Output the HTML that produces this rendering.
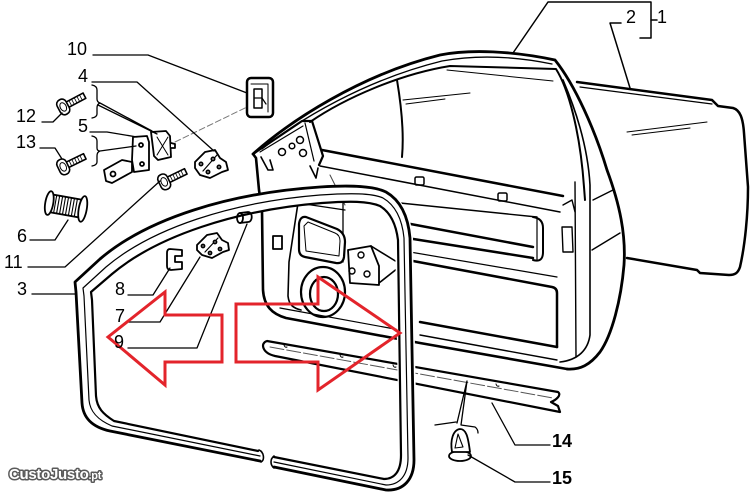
<!DOCTYPE html>
<html><head><meta charset="utf-8"><style>
html,body{margin:0;padding:0;background:#fff;width:750px;height:496px;overflow:hidden}
svg{display:block}
text{font-family:"Liberation Sans",Arial,sans-serif;}
</style></head><body>
<svg width="750" height="496" viewBox="0 0 750 496" xmlns="http://www.w3.org/2000/svg">
<rect width="750" height="496" fill="#fff"/>
<g fill="none" stroke="#000" stroke-linecap="round" stroke-linejoin="round">

<!-- label brackets 1/2 -->
<path d="M513,53 L548,2 L651,2 L651,38 L640,38" stroke-width="1.5"/>
<path d="M651,20 L657,20" stroke-width="1.5"/>
<path d="M621,23 L610,23 L630,88" stroke-width="1.5"/>

<!-- outer skin (2) -->
<path d="M577,82 L712,100 L718,106 L733,108 C740,110 743,118 744,133 L748,187 C748,215 745,245 740,267 C738,273 735,275 729,275 L700,273 L697,270 L627,258" stroke-width="2.5"/>
<path d="M580,87 L712,104" stroke-width="1.2"/>
<path d="M627,132 L707,122 M632,135 L690,128" stroke-width="1"/>

<!-- window frame / door shell -->
<path d="M253,154 C290,121 360,75 440,55 C470,49 513,51 555,60 C575,85 595,130 607,170 C620,205 626,235 624,265 C621,300 612,335 600,352 C590,365 580,370 567,369" stroke-width="2.8"/>
<path d="M262,149 C300,119 365,80 442,61 C475,55 513,56 552,64" stroke-width="1.3"/>
<path d="M310,122 C345,98 400,74 450,66 L556,69 C568,88 580,130 584,187 L585,200" stroke-width="2"/>
<path d="M563,80 C578,115 588,150 590,185 L590,335 C588,350 578,360 560,362" stroke-width="1.6"/>
<path d="M575,182 L576,357" stroke-width="1.4"/>
<path d="M397,80 C402,110 404,135 402,157" stroke-width="2"/>
<path d="M403,100 L470,93 M406,104 L445,99 M447,70 L553,81" stroke-width="1"/>
<path d="M593,200 L613,190 M592,250 L620,233" stroke-width="1.4"/>
<path d="M563,205 L572,200 L575,212 M562,227 L572,227 L573,252 L563,252 Z" stroke-width="1.4"/>

<!-- hinge plate -->
<path d="M253,154 L302,121 L312,121 L323,156 L319,165" stroke-width="2.2"/>
<path d="M260,152 L303,126" stroke-width="1.2"/>
<path d="M305,123 L314,161" stroke-width="1.2"/>
<path d="M261,157 L268,170 L273,170 L270,160" stroke-width="1.6"/>
<path d="M310,166 L316,178 L318,168" stroke-width="1.6"/>
<circle cx="282" cy="152" r="3.5" stroke-width="1.5"/>
<circle cx="292" cy="146" r="2.8" stroke-width="1.5"/>
<circle cx="300" cy="140" r="3.5" stroke-width="1.5"/>
<circle cx="303" cy="153" r="3.5" stroke-width="1.5"/>

<!-- door front edge and bottom -->
<path d="M253,154 L256,158 L259,190 L262,210 L263,290 C264,306 272,314 286,318 L420,343 L567,369" stroke-width="2.6"/>

<!-- belt lines -->
<path d="M322,150 L563,196" stroke-width="2.5"/>
<path d="M320,166 L560,212" stroke-width="1.5"/>
<rect x="415" y="177" width="9" height="8" rx="1.5" stroke-width="1.5"/>
<rect x="498" y="193" width="9" height="8" rx="1.5" stroke-width="1.5"/>
<path d="M330,175 L345,205" stroke-width="1" stroke="#444"/>

<!-- upper slot and lower opening -->
<path d="M400,203 L537,217" stroke-width="1.4"/>
<path d="M400,222 L533,247" stroke-width="2.5"/>
<path d="M407,238 L533,258" stroke-width="2.5"/>
<path d="M533,217 C540,218 543,222 543,228 L543,252 C543,259 540,262 533,260" stroke-width="2"/>
<path d="M537,219 L537,260" stroke-width="1.2"/>
<path d="M410,252 L557,277" stroke-width="1.2"/>
<path d="M413,261 L552,287 Q557,288 557,293 L557,347" stroke-width="2.5"/>
<path d="M420,322 L557,347" stroke-width="2.5"/>
<path d="M420,335 L557,360" stroke-width="1.4"/>

<!-- inner panel details (inside seal) -->
<path d="M298,203 L289,262 L288,296 C289,305 293,308 301,310" stroke-width="1.6"/>
<path d="M298,203 L345,210 M343,200 L343,262" stroke-width="1.3"/>
<path d="M306,217 L337,229 Q345,233 345,242 L344,257 Q343,264 336,263 L305,257 Q299,256 299,249 L299,224 Q300,216 306,217 Z" stroke-width="2.2" fill="#fff"/>
<path d="M308,222 L335,233 Q340,235 340,241 L339,256 L306,251 L304,226 Z" stroke-width="1"/>
<rect x="273" y="236" width="9" height="13" stroke-width="1.8"/>
<ellipse cx="323" cy="292" rx="22" ry="25" stroke-width="2.2" fill="#fff"/>
<ellipse cx="324" cy="294" rx="14" ry="17" stroke-width="2.2"/>
<path d="M348,250 L371,246 L379,266 L379,285 L350,283 Z" stroke-width="1.8" fill="#fff"/>
<circle cx="361" cy="255" r="3" stroke-width="1.4"/>
<circle cx="352" cy="271" r="3" stroke-width="1.4"/>
<circle cx="367" cy="274" r="3" stroke-width="1.4"/>
<path d="M371,246 L397,262 M379,283 L398,268" stroke-width="1.6"/>
<path d="M280,308 L400,330" stroke-width="1.2"/>

<!-- strip 14 -->
<path d="M267,341 L558,392 C562,395 556,400 551,402 L558,406 L560,412 L275,356 C262,353 260,343 267,341 Z" stroke-width="2.2" fill="#fff"/>
<path d="M270,347 L553,398" stroke-width="1" stroke="#555" stroke-dasharray="14,3"/>
<path d="M284,345 q1,3 3,2 M340,355 q1,3 3,2 M393,365 q1,3 3,2 M496,384 q1,3 3,2" stroke-width="1"/>

<!-- seal (3) -->
<path d="M274,462 L386,485 C399,485 408,476 408,458 L404,238 C402,218 395,205 383,198 C372,193 350,193 320,195 C232,202 152,228 106,267 L83,288 L84,296 L89,400 C90,412 98,420 112,426 L260,456" stroke="#fff" stroke-width="18"/>
<path d="M274,467 L386,490 C404,491 414,479 414,460 L410,238 C408,215 400,200 386,192 C374,186 352,185 320,187 C230,193 148,218 100,259 L75,282 L76,292 L82,403 C83,418 92,427 110,431 L260,461" stroke-width="2.8"/>
<path d="M274,462 L386,485 C399,485 408,476 408,458 L404,238 C402,218 395,205 383,198 C372,193 350,193 320,195 C232,202 152,228 106,267 L83,288 L84,296 L89,400 C90,412 98,420 112,426 L260,456" stroke-width="1.2"/>
<path d="M274,457 L384,479 C394,479 401,472 401,455 L398,240 C396,224 390,212 380,206 C368,201 350,201 322,203 C236,210 157,236 112,274 L91,292 L92,300 L96,396 C97,408 103,414 114,421 L258,451" stroke-width="2.2"/>
<path d="M274,456 C270,459 270,465 274,468" stroke-width="1.6"/>
<path d="M259,450 C264,452 265,460 261,462" stroke-width="1.6"/>

<!-- part 10 -->
<rect x="247" y="78" width="26" height="39" rx="4" stroke-width="2.5" fill="#fff"/>
<path d="M251,84 L268,84 M268,84 L268,112" stroke-width="1"/>
<rect x="254" y="89" width="8" height="19" stroke-width="1.5"/>
<path d="M254,98 L262,98 M262,98 L266,104" stroke-width="1.2"/>
<path d="M175,142 L247,107" stroke="#777" stroke-width="1" stroke-dasharray="6,3"/>

<!-- hinge part 5 -->
<g stroke-width="1.8" fill="#fff">
<path d="M104,170 L122,160 L132,162 L132,172 L112,183 L106,181 Z"/>
<circle cx="113" cy="174" r="2.5"/>
<path d="M133,137 L147,136 L149,142 L149,170 L134,172 L132,160 Z"/>
<circle cx="141" cy="145" r="2"/><circle cx="142" cy="164" r="2"/>
<path d="M151,132 L166,131 L170,136 L171,157 L158,160 L154,156 Z"/>
<path d="M157,137 L168,155 M168,137 L157,155" stroke-width="1"/>
<path d="M171,143 L175,144 L175,148 L171,148"/>
</g>

<!-- part 4 bracket -->
<g stroke-width="1.8" fill="#fff">
<path d="M195,162 L205,152 L215,150 L220,158 L226,162 L228,170 L222,172 L210,178 L200,175 L195,168 Z"/>
<path d="M203,171 L217,155" stroke-width="1.2"/>
<circle cx="201" cy="164" r="1.6"/><circle cx="208" cy="172" r="1.6"/><circle cx="213" cy="159" r="1.6"/><circle cx="219" cy="167" r="1.6"/>
</g>
<!-- part 7 -->
<g stroke-width="1.8" fill="#fff">
<path d="M197,245 L207,235 L217,233 L222,240 L228,243 L229,250 L223,252 L212,258 L202,255 L197,250 Z"/>
<path d="M205,252 L218,238" stroke-width="1.2"/>
<circle cx="203" cy="246" r="1.5"/><circle cx="210" cy="253" r="1.5"/><circle cx="215" cy="242" r="1.5"/><circle cx="220" cy="249" r="1.5"/>
</g>
<!-- part 8 -->
<path d="M182,250 L170,249 Q167,249 167,253 L167,266 Q167,270 171,270 L182,269 L182,262 L175,262 L175,256 L182,256 Z" stroke-width="1.8"/>
<!-- part 9 -->
<path d="M240,213 L248,212 C253,212 253,222 248,222 L240,223" stroke-width="1.8"/>
<ellipse cx="240" cy="218" rx="3" ry="5" stroke-width="1.8"/>

<!-- bolts -->
<g transform="translate(65,106) rotate(-28)" stroke-width="1.6" fill="#fff">
<rect x="2" y="-3" width="20" height="6"/>
<path d="M6,-3 L6,3 M9,-3 L9,3 M12,-3 L12,3 M15,-3 L15,3 M18,-3 L18,3" stroke-width="0.8"/>
<rect x="-7" y="-8" width="10" height="16" rx="4.5"/>
<ellipse cx="-2" cy="0" rx="3" ry="4.5" stroke-width="1"/>
</g>
<g transform="translate(65,166) rotate(-26)" stroke-width="1.6" fill="#fff">
<rect x="2" y="-3" width="20" height="6"/>
<path d="M6,-3 L6,3 M9,-3 L9,3 M12,-3 L12,3 M15,-3 L15,3 M18,-3 L18,3" stroke-width="0.8"/>
<rect x="-7" y="-8" width="10" height="16" rx="4.5"/>
<ellipse cx="-2" cy="0" rx="3" ry="4.5" stroke-width="1"/>
</g>
<g transform="translate(166,181) rotate(-26)" stroke-width="1.6" fill="#fff">
<rect x="2" y="-3" width="20" height="6"/>
<path d="M6,-3 L6,3 M9,-3 L9,3 M12,-3 L12,3 M15,-3 L15,3 M18,-3 L18,3" stroke-width="0.8"/>
<rect x="-7" y="-8" width="10" height="16" rx="4.5"/>
<ellipse cx="-2" cy="0" rx="3" ry="4.5" stroke-width="1"/>
</g>

<!-- grommet 6 -->
<g transform="translate(66,206) rotate(10)" stroke-width="1.8" fill="#fff">
<rect x="-17" y="-9" width="34" height="18"/>
<path d="M-11,-9 L-11,9 M-8,-9 L-8,9 M-5,-9 L-5,9 M-2,-9 L-2,9 M1,-9 L1,9 M4,-9 L4,9 M7,-9 L7,9 M10,-9 L10,9" stroke-width="1.1"/>
<ellipse cx="-17" cy="0" rx="4" ry="12"/>
<ellipse cx="17" cy="0" rx="4" ry="13"/>
</g>

<!-- part 15 clip -->
<g stroke-width="1.8" fill="#fff">
<ellipse cx="460" cy="456" rx="11" ry="5"/>
<path d="M452,452 C450,440 453,430 460,429 C466,429 468,436 470,452 Z"/>
<path d="M458,434 L463,447 L455,448 Z" stroke-width="1.1"/>
</g>

<!-- leader lines -->
<g stroke-width="1.3">
<path d="M93,55 L148,55 L247,93"/>
<path d="M92,82 L137,82 L214,151"/>
<path d="M92,85 Q97,86 97,90 L97,99 Q97,102 100,103 M100,103 L152,131 M98,105 L157,134 M100,103 Q97,104 97,108 L97,114 Q97,117 92,118"/>
<path d="M90,132 L107,132 L137,137"/>
<path d="M92,136 Q97,137 97,141 L97,148 Q97,151 100,151 L136,146 M100,151 Q97,152 97,156 L97,162 Q97,165 92,166"/>
<path d="M42,122 L53,122 L62,113"/>
<path d="M40,148 L55,148 L62,159"/>
<path d="M30,240 L55,240 L68,220"/>
<path d="M28,267 L65,267 L160,181"/>
<path d="M32,294 L75,294"/>
<path d="M128,295 L153,295 L170,268"/>
<path d="M128,322 L160,322 L200,257"/>
<path d="M128,348 L197,348 L247,224"/>
<path d="M492,403 L515,445 L550,445"/>
<path d="M468,455 L515,482 L550,482"/>
<path d="M467,381 L457,423 M467,381 L461,425 M435,425 L456,422 M461,425 L475,427 Q478,429 478,433"/>
</g>
</g>

<!-- red arrows -->
<g fill="none" stroke="#e3242b" stroke-width="3" stroke-linejoin="miter">
<polygon points="108,337 165,292 165,315 222,315 222,362 165,362 165,385"/>
<polygon points="236,304 318,304 318,277 400,333 318,390 318,362 236,362"/>
</g>

<!-- labels -->
<g font-size="18" fill="#000">
<text x="67" y="55">10</text>
<text x="78" y="82">4</text>
<text x="78" y="132">5</text>
<text x="16" y="122">12</text>
<text x="16" y="148">13</text>
<text x="17" y="242">6</text>
<text x="4" y="268">11</text>
<text x="17" y="295">3</text>
<text x="115" y="295">8</text>
<text x="115" y="322">7</text>
<text x="114" y="348">9</text>
<text x="626" y="23">2</text>
<text x="657" y="23">1</text>
<text x="552" y="447" font-weight="bold">14</text>
<text x="552" y="484" font-weight="bold">15</text>
</g>

<!-- watermark -->
<text x="9" y="479" font-weight="bold" font-size="15" fill="#fff" stroke="#5a5a5a" stroke-width="3" paint-order="stroke" stroke-linejoin="round" letter-spacing="-0.3">CustoJusto<tspan font-size="11">.pt</tspan></text>
</svg>
</body></html>
